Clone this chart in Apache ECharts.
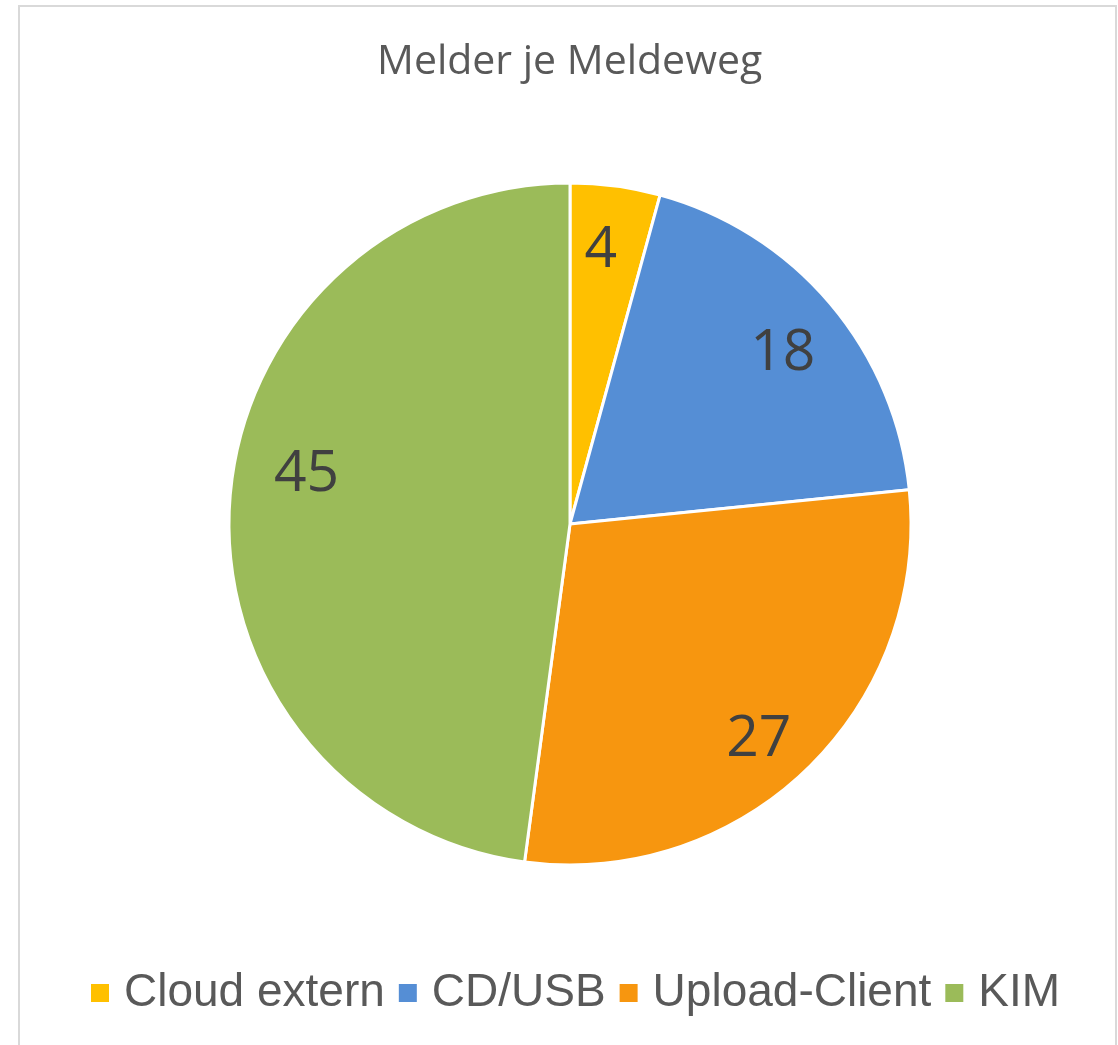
<!DOCTYPE html>
<html>
<head>
<meta charset="utf-8">
<script src="https://cdn.jsdelivr.net/npm/echarts@6/dist/echarts.min.js"></script>
<style>
  html, body { margin: 0; padding: 0; background: #fff; }
  #chart { width: 1118px; height: 1045px; }
</style>
</head>
<body>
<div id="chart"></div>
<script>
// 数据
var categories = ['Cloud extern', 'CD/USB', 'Upload-Client', 'KIM'];
var values = [4, 18, 27, 45];
var colors = ['#FFC000', '#558ED5', '#F7960F', '#9BBB59'];
// 标签微调 (Excel "best fit" 位置)
var labelOffsets = [[-6, 0], [2, 8], [-3, 17], [12, -31]];

var pieData = categories.map(function (name, i) {
  return { name: name, value: values[i], itemStyle: { color: colors[i] } };
});

var chart = echarts.init(document.getElementById('chart'));
chart.setOption({
  animation: false,
  color: colors,
  title: {
    text: 'Melder je Meldeweg',
    left: 372,
    top: 37,
    textStyle: {
      fontFamily: 'Open Sans',
      fontSize: 41,
      fontWeight: 'normal',
      color: '#595959'
    }
  },
  graphic: [{
    type: 'rect',
    silent: true,
    shape: { x: 19, y: 6, width: 1097, height: 1100 },
    style: { fill: 'none', stroke: '#d9d9d9', lineWidth: 2 }
  }],
  legend: {
    left: 86,
    top: 965,
    icon: 'rect',
    itemWidth: 18,
    itemHeight: 18,
    itemGap: 14,
    itemStyle: { borderWidth: 0 },
    data: categories,
    textStyle: {
      fontFamily: 'Liberation Sans',
      fontSize: 46,
      color: '#595959',
      padding: [0, 0, 0, 10]
    }
  },
  series: [
    {
      // 饼图本体
      name: 'Meldeweg',
      type: 'pie',
      center: [570, 524],
      radius: [0, 341],
      startAngle: 90,
      clockwise: true,
      label: { show: false },
      labelLine: { show: false },
      itemStyle: { borderColor: '#fff', borderWidth: 3 },
      data: pieData
    },
    {
      // 标签层 (透明环, 让标签落在约0.8半径处)
      name: 'labels',
      type: 'pie',
      silent: true,
      center: [570, 524],
      radius: [205, 341],
      startAngle: 90,
      clockwise: true,
      itemStyle: { color: 'rgba(0,0,0,0)', borderWidth: 0 },
      labelLine: { show: false },
      label: {
        show: true,
        position: 'inside',
        formatter: '{c}',
        fontFamily: 'Open Sans',
        fontSize: 57,
        color: '#404040'
      },
      data: categories.map(function (name, i) {
        return { name: name, value: values[i], label: { offset: labelOffsets[i] } };
      })
    }
  ]
});
</script>
</body>
</html>
